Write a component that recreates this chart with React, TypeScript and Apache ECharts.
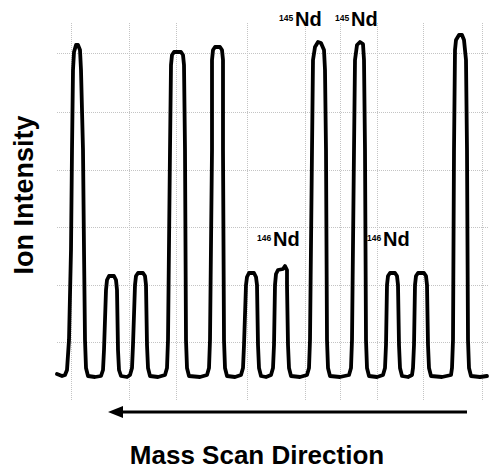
import React, { useEffect, useRef } from "react";
import * as echarts from "echarts";

// Chart-recorder trace: scan position vs. ion intensity (arbitrary units)
const scanPosition = [
  0, 5, 8,
  10, 12, 14, 15, 16, 17, 19, 21, 23, 24, 26, 27, 28, 29, 31,
  38, 44,
  46, 47, 49, 50, 52, 57, 59, 60, 61, 62, 64,
  70, 73,
  75, 76, 78, 79, 81, 86, 88, 89, 90, 91, 93,
  101, 108,
  110, 111, 113, 114, 115, 117, 124, 126, 127, 128, 129, 130, 132,
  143, 150,
  152, 153, 155, 155, 156, 158, 163, 165, 166, 166, 167, 168, 170,
  178, 184,
  186, 187, 189, 190, 192, 197, 199, 200, 201, 202, 204,
  209, 214,
  216, 217, 218, 219, 221, 226, 228, 230, 230, 231, 232, 234,
  243, 250,
  252, 253, 255, 256, 258, 261, 264, 267, 268, 269, 270, 271, 273,
  283, 292,
  294, 295, 297, 298, 300, 303, 306, 307, 308, 309, 310, 312,
  320, 326,
  328, 329, 330, 331, 333, 338, 340, 341, 342, 343, 345,
  351, 355,
  356, 357, 358, 359, 361, 367, 369, 370, 371, 372, 374,
  385, 394,
  395, 396, 397, 398, 399, 402, 405, 407, 409, 410, 411, 412, 414,
  423, 430,
];
const intensity = [
  26, 24, 25,
  30, 60, 150, 250, 330, 348, 355, 355, 350, 330, 250, 150, 60, 32, 24,
  23, 24,
  30, 50, 110, 120, 124, 124, 120, 110, 50, 30, 24,
  23, 25,
  32, 55, 115, 124, 127, 127, 124, 115, 55, 32, 24,
  23, 25,
  32, 60, 250, 335, 345, 348, 348, 345, 335, 250, 60, 32, 24,
  23, 25,
  32, 60, 250, 340, 350, 353, 353, 350, 340, 250, 60, 32, 24,
  23, 25,
  32, 55, 115, 123, 127, 127, 123, 115, 55, 32, 24,
  23, 25,
  32, 55, 115, 126, 130, 131, 134, 130, 115, 55, 32, 24,
  23, 25,
  32, 60, 250, 340, 353, 358, 357, 350, 330, 250, 60, 32, 24,
  23, 25,
  32, 60, 250, 340, 355, 358, 356, 340, 250, 60, 32, 24,
  23, 25,
  32, 55, 115, 124, 127, 127, 124, 115, 55, 32, 24,
  23, 25,
  32, 55, 115, 124, 127, 127, 124, 115, 55, 32, 24,
  23, 25,
  32, 60, 250, 350, 360, 365, 365, 360, 340, 250, 60, 32, 24,
  23, 24,
];

// Faint chart-paper grid lines (data units)
const paperRows = [58, 115, 173, 230, 288, 347];
const paperCols = [14, 72, 119, 190, 248, 283, 320, 366, 425];

// Peak annotations
const annotations = [
  { mass: "145", el: "Nd" },
  { mass: "145", el: "Nd" },
  { mass: "146", el: "Nd" },
  { mass: "146", el: "Nd" },
];

const yTitle = "Ion Intensity";
const xTitle = "Mass Scan Direction";

const FONT = "'Liberation Sans', Arial, Helvetica, sans-serif";

export default function App() {
  const ref = useRef<HTMLDivElement>(null);

  useEffect(() => {
    if (!ref.current) return;
    const chart = echarts.init(ref.current, undefined, { renderer: "svg" });

    const trace = scanPosition.map((x, i) => [x, intensity[i]]);
    const gridStyle = { color: "#c4c4c4", width: 1, type: "dotted" as const };

    // annotation layout: [supX, supTop, elX, capTop]
    const annPos = [
      [279, 13, 295, 13],
      [335, 13, 351, 13],
      [257, 233, 273, 233],
      [367, 233, 383, 233],
    ];

    const annGraphics: any[] = [];
    annotations.forEach((a, i) => {
      const p = annPos[i];
      annGraphics.push({
        type: "text",
        x: p[0],
        y: p[1],
        z: 10,
        style: {
          text: a.mass,
          font: `bold 8.5px ${FONT}`,
          fill: "#000",
          align: "left",
          verticalAlign: "top",
        },
      });
      annGraphics.push({
        type: "text",
        x: p[2],
        y: p[3] - 4,
        z: 10,
        style: {
          text: a.el,
          font: `bold 20px ${FONT}`,
          fill: "#000",
          align: "left",
          verticalAlign: "top",
        },
      });
    });

    chart.setOption({
      animation: false,
      backgroundColor: "#fff",
      grid: { left: 57, top: 23, width: 432, bottom: 76, containLabel: false },
      xAxis: {
        type: "value",
        min: 0,
        max: 432,
        show: false,
      },
      yAxis: {
        type: "value",
        min: 0,
        max: 377,
        show: false,
      },
      series: [
        {
          type: "line",
          data: trace,
          symbol: "none",
          smooth: false,
          silent: true,
          z: 5,
          lineStyle: { color: "#000", width: 3.8, cap: "round", join: "round" },
          markLine: {
            silent: true,
            symbol: "none",
            label: { show: false },
            lineStyle: gridStyle,
            z: 1,
            data: [
              ...paperRows.map((v) => ({ yAxis: v })),
              ...paperCols.map((v) => ({ xAxis: v })),
            ],
          },
        },
      ],
      graphic: [
        ...annGraphics,
        {
          type: "text",
          x: 24,
          y: 195,
          rotation: Math.PI / 2,
          style: {
            text: yTitle,
            font: `bold 27px ${FONT}`,
            fill: "#000",
            align: "center",
            verticalAlign: "middle",
          },
        },
        {
          type: "text",
          x: 257,
          y: 455,
          style: {
            text: xTitle,
            font: `bold 26px ${FONT}`,
            fill: "#000",
            align: "center",
            verticalAlign: "middle",
          },
        },
        {
          type: "line",
          shape: { x1: 118, y1: 412, x2: 467, y2: 412 },
          style: { stroke: "#000", lineWidth: 3 },
        },
        {
          type: "polygon",
          shape: { points: [[108, 412], [123, 406], [123, 418]] },
          style: { fill: "#000" },
        },
      ],
    });

    return () => chart.dispose();
  }, []);

  return (
    <div
      ref={ref}
      style={{ position: "fixed", left: 0, top: 0, width: 491, height: 476 }}
    />
  );
}
